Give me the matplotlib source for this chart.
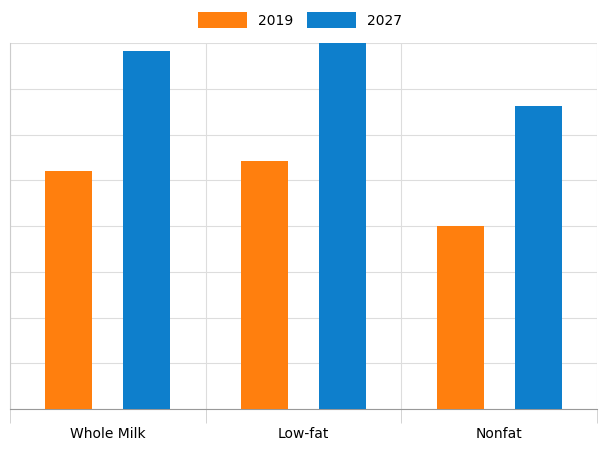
import numpy as np
import matplotlib.pyplot as plt

categories = ["Whole Milk", "Low-fat", "Nonfat"]
series_names = ["2019", "2027"]
values_2019 = [5.2, 5.42, 4.0]
values_2027 = [7.83, 8.2, 6.62]
colors = ["#ff7f0e", "#0e7fcc"]

fig = plt.figure(figsize=(6, 4.52), dpi=100)
ax = fig.add_axes([10/600, 42/452, 587/600, 366/452])

x = np.arange(len(categories))
w = 0.24
ax.bar(x - 0.2, values_2019, w, color=colors[0], label=series_names[0], zorder=3)
ax.bar(x + 0.2, values_2027, w, color=colors[1], label=series_names[1], zorder=3)

ax.set_xlim(-0.5, 2.5)
ax.set_ylim(0, 8)
ax.set_yticks(np.arange(0, 9, 1))
ax.set_yticklabels([])
ax.tick_params(axis='y', length=0)
ax.set_xticks(x)
ax.set_xticklabels(categories, fontsize=10, family="Liberation Sans Narrow")
ax.tick_params(axis='x', length=0, pad=12)
ax.set_xticks([-0.5, 0.5, 1.5, 2.5], minor=True)
ax.tick_params(axis='x', which='minor', length=10, color="#cccccc")
ax.grid(axis='y', color="#dddddd", lw=0.8, zorder=0)
ax.grid(axis='x', which='minor', color="#dddddd", lw=0.8, zorder=0)
for s in ["top", "right"]:
    ax.spines[s].set_visible(False)
ax.spines["left"].set_color("#cccccc")
ax.spines["bottom"].set_color("#999999")

fig.legend(loc="upper center", bbox_to_anchor=(0.5, 1.0), ncol=2, frameon=False,
           handlelength=3.5, handleheight=1.4, fontsize=10, columnspacing=1.0,
           prop={"family": "Liberation Sans Narrow", "size": 10})

fig.savefig("out.png", dpi=100)
